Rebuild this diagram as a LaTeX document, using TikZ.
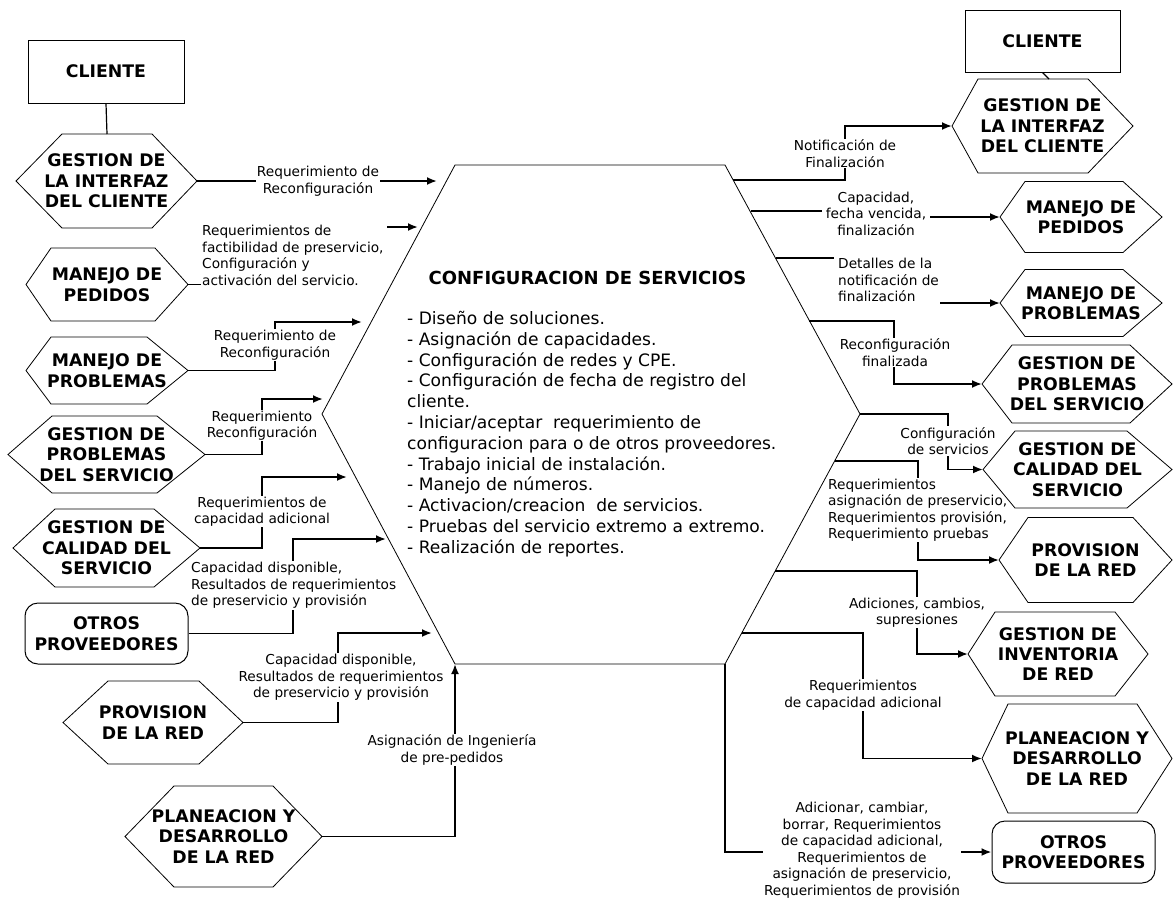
\documentclass[tikz,border=0pt]{standalone}
\usepackage{fontspec}
\setmainfont{DejaVu Sans}
\usetikzlibrary{arrows.meta}

\pgfdeclarelayer{flows}
\pgfsetlayers{flows,main}

\tikzset{
  hexline/.style={draw=black, line width=0.8pt, line join=miter},
  hexlabel/.style={font=\fontsize{17.3}{20.4}\selectfont\bfseries, align=center, inner sep=0pt},
  boxnode/.style={draw=black, line width=1pt, font=\fontsize{17.3}{20.4}\selectfont\bfseries, align=center, inner sep=0pt},
  roundbox/.style={boxnode, rounded corners=13pt},
  conn/.style={line width=1.9pt},
  arr/.style={conn, -{Latex[length=10pt,width=8pt]}},
  lbl/.style={font=\fontsize{13.7}{16.5}\selectfont, align=center, fill=white, inner sep=1pt},
  lbll/.style={lbl, align=left},
  titletext/.style={font=\fontsize{18}{21}\selectfont\bfseries, inner sep=0pt},
  listtext/.style={font=\fontsize{17.1}{20.8}\selectfont, align=left, inner sep=0pt},
}

% hexagon: name, x left point, x top-left, x top-right, x right point, y centre, half height, text
\newcommand\hexbox[8]{%
  \coordinate (#1-w) at (#2,#6);
  \coordinate (#1-e) at (#5,#6);
  \coordinate (#1-n) at ({(#3+#4)/2},{#6-#7});
  \draw[hexline] (#2,#6) -- (#3,{#6-#7}) -- (#4,{#6-#7}) -- (#5,#6)
    -- (#4,{#6+#7}) -- (#3,{#6+#7}) -- cycle;
  \node[hexlabel] (#1) at ({(#2+#5)/2},#6) {#8};
}

\begin{document}
\begin{tikzpicture}[x=1pt,y=-1pt]
\useasboundingbox (0,0) rectangle (1174,900);

% ---- central process ----
\coordinate (hTL) at (455,165);
\coordinate (hTR) at (725,165);
\coordinate (hR)  at (860,414);
\coordinate (hBR) at (725,664);
\coordinate (hBL) at (455,664);
\coordinate (hL)  at (322,414);
\draw[hexline] (hTL) -- (hTR) -- (hR) -- (hBR) -- (hBL) -- (hL) -- cycle;
\node[titletext] (title) at (587.5,278) {CONFIGURACION DE SERVICIOS};
\node[listtext, anchor=west] (tasks) at (407,434) {%
- Diseño de soluciones.\\
- Asignación de capacidades.\\
- Configuración de redes y CPE.\\
- Configuración de fecha de registro del\\
cliente.\\
- Iniciar/aceptar\ \ requerimiento de\\
configuracion para o de otros proveedores.\\
- Trabajo inicial de instalación.\\
- Manejo de números.\\
- Activacion/creacion\ \ de servicios.\\
- Pruebas del servicio extremo a extremo.\\
- Realización de reportes.};

% ---- left column ----
\node[boxnode, minimum width=156pt, minimum height=63pt] (cliL) at (106,71.5) {CLIENTE};
\hexbox{gicL}{16}{62}{152}{197}{181}{47}{GESTION DE\\LA INTERFAZ\\DEL CLIENTE}
\hexbox{mpL}{26}{51}{155}{188}{284.5}{36.5}{MANEJO DE\\PEDIDOS}
\hexbox{mprL}{26}{51}{147}{188}{370.5}{33.5}{MANEJO DE\\PROBLEMAS}
\hexbox{gpsL}{8}{52}{157}{205}{454.5}{38.5}{GESTION DE\\PROBLEMAS\\DEL SERVICIO}
\hexbox{gcsL}{13}{55}{154}{200}{548}{39}{GESTION DE\\CALIDAD DEL\\SERVICIO}
\node[roundbox, minimum width=163pt, minimum height=61pt] (otL) at (106.5,633.5) {OTROS\\PROVEEDORES};
\hexbox{prL}{63}{108}{199}{243}{722.5}{41.5}{PROVISION\\DE LA RED}
\hexbox{plL}{125}{174}{273}{322}{836.5}{50.5}{PLANEACION Y\\DESARROLLO\\DE LA RED}

% ---- right column ----
\node[boxnode, minimum width=155pt, minimum height=62pt] (cliR) at (1042.5,41) {CLIENTE};
\hexbox{gicR}{952}{978}{1088}{1133}{126}{47}{GESTION DE\\LA INTERFAZ\\DEL CLIENTE}
\hexbox{mpR}{1000}{1025}{1123}{1162}{217}{35.5}{MANEJO DE\\PEDIDOS}
\hexbox{mprR}{1000}{1025}{1123}{1162}{303}{33.5}{MANEJO DE\\PROBLEMAS}
\hexbox{gpsR}{982}{1012}{1130}{1172}{384}{39}{GESTION DE\\PROBLEMAS\\DEL SERVICIO}
\hexbox{gcsR}{983}{1015}{1127}{1172}{469.5}{38.5}{GESTION DE\\CALIDAD DEL\\SERVICIO}
\hexbox{prR}{999}{1028}{1133}{1172}{560}{42.5}{PROVISION\\DE LA RED}
\hexbox{girR}{968}{995}{1115}{1148}{654}{42}{GESTION DE\\INVENTORIA\\DE RED}
\hexbox{plR}{982}{1008}{1137}{1172}{758.5}{54.5}{PLANEACION Y\\DESARROLLO\\DE LA RED}
\node[roundbox, minimum width=163pt, minimum height=62pt] (otR) at (1073.5,852) {OTROS\\PROVEEDORES};

\begin{pgfonlayer}{flows}
% client links
\draw[line width=1.2pt] (cliL.south) -- (gicL-n);
\coordinate (gicRtop) at (1049,79);
\draw[line width=1.2pt] (cliR.south) -- (gicRtop);

% ---- inputs to the central process ----
\coordinate (inA) at (437,181);
\draw[arr] (gicL-e) -- (inA);
\coordinate (mpOut) at (201,284.5);
\draw[conn] (mpL-e) -- (mpOut);
\coordinate (inBs) at (387,227);
\coordinate (inB) at (418,227);
\draw[arr] (inBs) -- (inB);
\coordinate (inC) at (362,322);
\draw[arr] (mprL-e) -- (275,370.5) -- (275,322) -- (inC);
\coordinate (inD) at (323,399);
\draw[arr] (gpsL-e) -- (262,454.5) -- (262,399) -- (inD);
\coordinate (inE) at (347,477);
\draw[arr] (gcsL-e) -- (262,548) -- (262,477) -- (inE);
\coordinate (inF) at (386,539);
\draw[arr] (otL.east) -- (293,633.5) -- (293,539) -- (inF);
\coordinate (inG) at (432,633);
\draw[arr] (prL-e) -- (338,722.5) -- (338,633) -- (inG);
\draw[arr] (plL-e) -- (455,836.5) -- (hBL);

% ---- outputs of the central process ----
\coordinate (outI) at (733,180);
\draw[arr] (outI) -- (845,180) -- (845,126) -- (gicR-w);
\coordinate (outJ) at (751,211);
\coordinate (outJe) at (822,211);
\draw[conn] (outJ) -- (outJe);
\coordinate (outJs) at (930,217);
\draw[arr] (outJs) -- (mpR-w);
\coordinate (outK) at (776,258);
\coordinate (outKe) at (834,258);
\draw[conn] (outK) -- (outKe);
\coordinate (outKs) at (940,303);
\draw[arr] (outKs) -- (mprR-w);
\coordinate (outL) at (809,321);
\draw[arr] (outL) -- (894,321) -- (894,384) -- (gpsR-w);
\draw[arr] (hR) -- (948,414) -- (948,469.5) -- (gcsR-w);
\coordinate (outN) at (835,461);
\draw[arr] (outN) -- (918,461) -- (918,560) -- (prR-w);
\coordinate (outO) at (775,571);
\draw[arr] (outO) -- (917,571) -- (917,654) -- (girR-w);
\coordinate (outP) at (742,633);
\draw[arr] (outP) -- (863,633) -- (863,758.5) -- (plR-w);
\draw[arr] (hBR) |- (otR.west);

% ---- flow labels ----
\node[lbl] (lA) at (318,181) {Requerimiento de\\Reconfiguración};
\node[lbll, anchor=west] (lB) at (201,255.5) {Requerimientos de\\factibilidad de preservicio,\\Configuración y\\activación del servicio.};
\node[lbl] (lC) at (275,345) {Requerimiento de\\Reconfiguración};
\node[lbl] (lD) at (262,425.5) {Requerimiento\\Reconfiguración};
\node[lbl] (lE) at (262,511.5) {Requerimientos de\\capacidad adicional};
\node[lbll, anchor=west] (lF) at (190,585.5) {Capacidad disponible,\\Resultados de requerimientos\\de preservicio y provisión};
\node[lbl] (lG) at (341,677.5) {Capacidad disponible,\\Resultados de requerimientos\\de preservicio y provisión};
\node[lbl] (lH) at (452,750) {Asignación de Ingeniería\\de pre-pedidos};
\node[lbl] (lI) at (845,153.5) {Notificación de\\Finalización};
\node[lbl] (lJ) at (876,213.5) {Capacidad,\\fecha vencida,\\finalización};
\node[lbll, anchor=west] (lK) at (837,280) {Detalles de la\\notificación de\\finalización};
\node[lbl] (lL) at (895,352.5) {Reconfiguración\\finalizada};
\node[lbl] (lM) at (948,441) {Configuración\\de servicios};
\node[lbll, anchor=west] (lN) at (827,510) {Requerimientos\\asignación de preservicio,\\Requerimientos provisión,\\Requerimiento pruebas};
\node[lbl] (lO) at (917,612.5) {Adiciones, cambios,\\supresiones};
\node[lbl] (lP) at (863,695) {Requerimientos\\de capacidad adicional};
\node[lbl] (lQ) at (862,850) {Adicionar, cambiar,\\borrar, Requerimientos\\de capacidad adicional,\\Requerimientos de\\asignación de preservicio,\\Requerimientos de provisión};
\end{pgfonlayer}
\end{tikzpicture}
\end{document}
